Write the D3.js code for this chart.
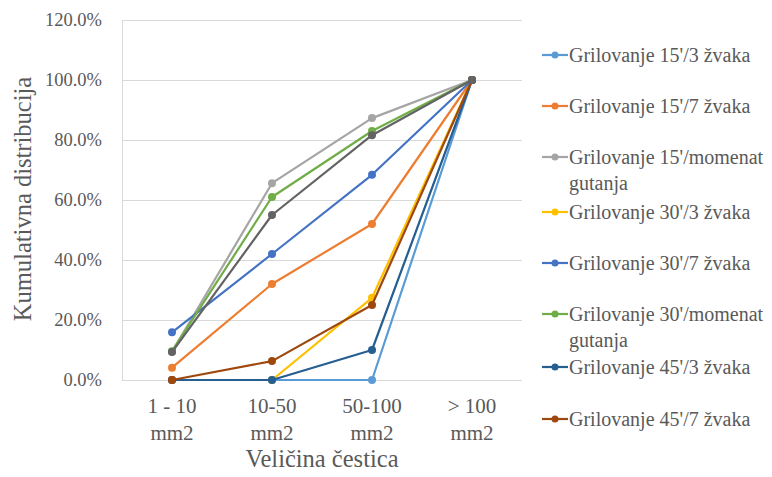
<!DOCTYPE html>
<html><head><meta charset="utf-8">
<script src="https://cdn.jsdelivr.net/npm/d3@7"></script>
<style>body{margin:0;background:#fff;font-family:'Liberation Serif',serif}</style>
</head><body>
<script>
const categories = [["1 - 10","mm2"],["10-50","mm2"],["50-100","mm2"],["> 100","mm2"]];
const yTicks = [0,0.2,0.4,0.6,0.8,1.0,1.2];
const seriesNames = ["Grilovanje 15'/3 žvaka","Grilovanje 15'/7 žvaka","Grilovanje 15'/momenat gutanja","Grilovanje 30'/3 žvaka","Grilovanje 30'/7 žvaka","Grilovanje 30'/momenat gutanja","Grilovanje 45'/3 žvaka","Grilovanje 45'/7 žvaka","Grilovanje 45'/momenat gutanja"];
const s1 = [0,0,0,1];
const s2 = [0.041,0.32,0.52,1];
const s3 = [0.094,0.656,0.873,1];
const s4 = [0,0,0.274,1];
const s5 = [0.159,0.42,0.684,1];
const s6 = [0.096,0.61,0.83,1];
const s7 = [0,0,0.10,1];
const s8 = [0,0.063,0.25,1];
const s9 = [0.093,0.55,0.816,1];
const colors = ["#5B9BD5","#ED7D31","#A5A5A5","#FFC000","#4472C4","#70AD47","#255E91","#9E480E","#636363"];
const legendCount = 8;

const W=772,H=477;
const FONT="'Liberation Serif', serif";
const TC="#595959";
const svg=d3.select("body").append("svg").attr("width",W).attr("height",H).style("font-family",FONT);
const x=d3.scaleBand().domain(categories.map((d,i)=>i)).range([122,522]);
const y=d3.scaleLinear().domain([0,1.2]).range([380,20]);
const fmt=d=>(d*100).toFixed(1)+"%";
const st=sel=>sel.style("font-family",FONT).style("fill",TC);

svg.append("g").selectAll("line").data(yTicks).join("line")
 .attr("x1",122).attr("x2",522).attr("y1",d=>y(d)).attr("y2",d=>y(d))
 .attr("stroke","#d9d9d9").attr("stroke-width",1).attr("shape-rendering","crispEdges");
const ya=svg.append("g").attr("transform","translate(122,0)").call(d3.axisLeft(y).tickValues(yTicks).tickFormat(fmt).tickSize(0).tickPadding(20));
ya.attr("font-family",null).attr("font-size",null);
ya.select(".domain").attr("stroke","#d9d9d9");
ya.selectAll("text").call(st).style("font-size","18.5px");
const xa=svg.append("g");
categories.forEach((c,i)=>{
  const cx=x(i)+x.bandwidth()/2;
  const t=xa.append("text").attr("x",cx).attr("text-anchor","middle").call(st).style("font-size","21px");
  t.append("tspan").attr("x",cx).attr("y",413).text(c[0]);
  t.append("tspan").attr("x",cx).attr("y",440).text(c[1]);
});
svg.append("text").attr("x",322).attr("y",467).attr("text-anchor","middle").call(st).style("font-size","24.5px").text("Veličina čestica");
svg.append("text").attr("transform","translate(31,199) rotate(-90)").attr("text-anchor","middle").call(st).style("font-size","24.5px").text("Kumulativna distribucija");

const series=[s1,s2,s3,s4,s5,s6,s7,s8,s9];
const line=d3.line().x((d,i)=>x(i)+x.bandwidth()/2).y(d=>y(d));
series.forEach((s,k)=>{
  const g=svg.append("g");
  g.append("path").attr("d",line(s)).attr("fill","none").attr("stroke",colors[k]).attr("stroke-width",2.2).attr("stroke-linejoin","round");
  g.selectAll("circle").data(s).join("circle").attr("cx",(d,i)=>x(i)+x.bandwidth()/2).attr("cy",d=>y(d)).attr("r",4).attr("fill",colors[k]);
});

const legY=[55,106,157,212,263,314,367,419];
const lg=svg.append("g");
seriesNames.slice(0,legendCount).forEach((n,k)=>{
  const yy=legY[k];
  lg.append("line").attr("x1",542).attr("x2",568).attr("y1",yy).attr("y2",yy).attr("stroke",colors[k]).attr("stroke-width",2.2);
  lg.append("circle").attr("cx",555).attr("cy",yy).attr("r",3.5).attr("fill",colors[k]);
  const parts=n.includes("momenat")?[n.replace(" gutanja",""),"gutanja"]:[n];
  const t=lg.append("text").call(st).style("font-size","20px");
  parts.forEach((p,j)=>t.append("tspan").attr("x",569).attr("y",yy+7+j*26).text(p));
});
</script>
</body></html>
